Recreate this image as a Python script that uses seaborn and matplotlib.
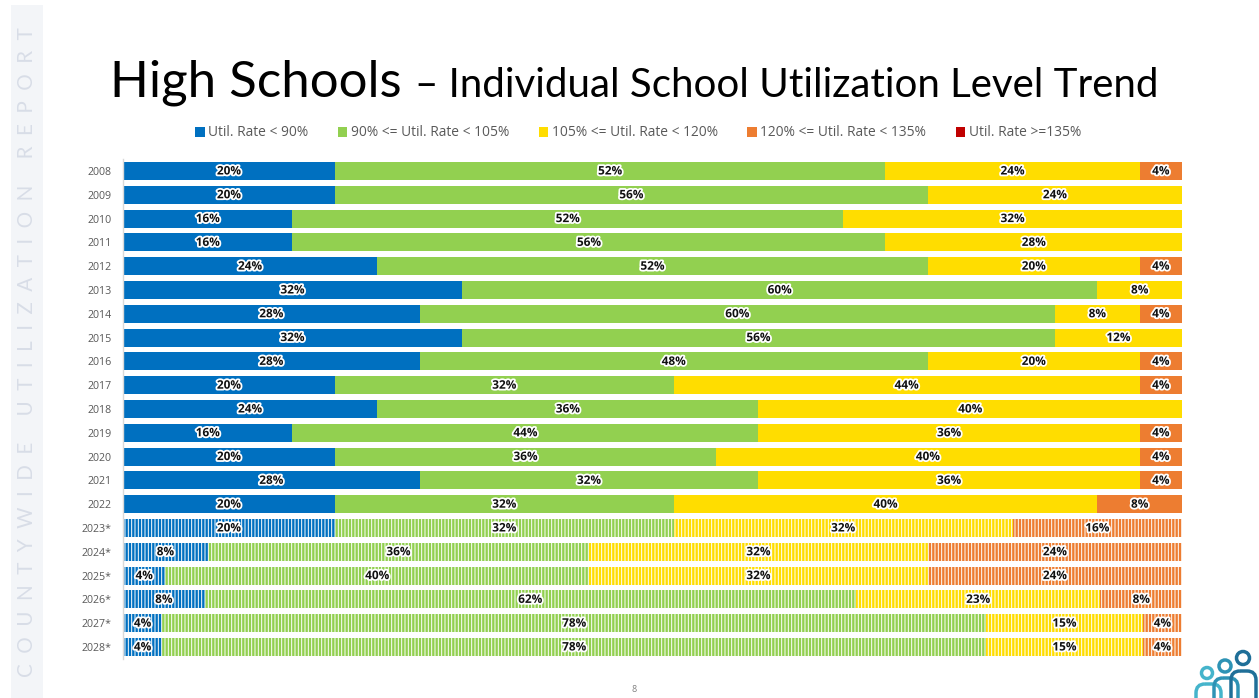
import seaborn as sns
import matplotlib.pyplot as plt
import matplotlib.patheffects as pe
from matplotlib.patches import Rectangle, Circle, FancyBboxPatch

years = ["2008", "2009", "2010", "2011", "2012", "2013", "2014", "2015", "2016", "2017", "2018",
         "2019", "2020", "2021", "2022", "2023*", "2024*", "2025*", "2026*", "2027*", "2028*"]

# shares per band, the projected years are not whole percents
under_90 = [20, 20, 16, 16, 24, 32, 28, 32, 28, 20, 24, 16, 20, 28, 20, 20, 8, 4, 7.7, 3.7, 3.7]
from_90 = [52, 56, 52, 56, 52, 60, 60, 56, 48, 32, 36, 44, 36, 32, 32, 32, 36, 40, 61.5, 77.8, 77.8]
from_105 = [24, 24, 32, 28, 20, 8, 8, 12, 20, 44, 40, 36, 40, 36, 40, 32, 32, 32, 23.1, 14.8, 14.8]
from_120 = [4, 0, 0, 0, 4, 0, 4, 0, 4, 4, 0, 4, 4, 4, 8, 16, 24, 24, 7.7, 3.7, 3.7]
over_135 = [0] * 21

bands = ["Util. Rate < 90%", "90% <= Util. Rate < 105%", "105% <= Util. Rate < 120%",
         "120% <= Util. Rate < 135%", "Util. Rate >=135%"]
colors = ["#0070C0", "#92D050", "#FFDD00", "#ED7D31", "#C00000"]

W, H = 1259, 698
sns.set_theme(style="white")
plt.rcParams["font.family"] = ["Open Sans", "DejaVu Sans"]
plt.rcParams["hatch.linewidth"] = 0.7

fig = plt.figure(figsize=(W / 100, H / 100), dpi=100)
ax = fig.add_axes([123 / W, 1 - 658.9 / H, 1059 / W, 499.8 / H])

hatches = [None if not y.endswith("*") else "|||||" for y in years]
lefts = [0] * len(years)
for band, color, values in zip(bands, colors, [under_90, from_90, from_105, from_120, over_135]):
    sns.barplot(x=values, y=years, left=lefts, color=color, saturation=1, orient="y", ax=ax,
                width=0.75, errorbar=None, edgecolor="#FFFFFF", linewidth=0, hatch=hatches)
    labels = [f"{v:.0f}%" if v > 0 else "" for v in values]
    ax.bar_label(ax.containers[-1], labels=labels, label_type="center", fontsize=8.5,
                 fontweight="bold", color="#111111",
                 path_effects=[pe.withStroke(linewidth=2.6, foreground="white")])
    lefts = [a + b for a, b in zip(lefts, values)]

ax.set_xlim(0, 100)
ax.set_xlabel("")
ax.set_ylabel("")
ax.xaxis.set_visible(False)
ax.tick_params(axis="y", length=0, pad=8, labelsize=7.7, labelcolor="#595959")
sns.despine(ax=ax, left=False, bottom=True)
ax.spines["left"].set_color("#D9D9D9")
ax.spines["left"].set_linewidth(1)

fig.legend(ax.containers, bands, loc="center", bbox_to_anchor=(638 / W, 1 - 133 / H), ncol=5,
           frameon=False, fontsize=9.9, labelcolor="#595959", handlelength=0.7, handleheight=0.7,
           handletextpad=0.25, columnspacing=2.15)

# slide decoration, in pixel coordinates
deco = fig.add_axes([0, 0, 1, 1], zorder=-1)
deco.set_xlim(0, W)
deco.set_ylim(H, 0)
deco.axis("off")
deco.add_patch(Rectangle((11, 5), 32, 693, color="#F3F5F8", lw=0))
side_text = "  ".join("COUNTYWIDE") + "     " + "  ".join("UTILIZATION") + "     " + "  ".join("REPORT")
deco.text(27, 352, side_text, rotation=90, ha="center", va="center", fontsize=14.85,
          color="#D8DDE7", family="Lato")
deco.text(110, 97, "High Schools", fontsize=36.7, color="black", family="Lato", va="baseline")
deco.text(415, 97, "– Individual School Utilization Level Trend", fontsize=29, color="black",
          family="Lato", va="baseline")
deco.text(634, 689, "8", fontsize=6.5, color="#7F7F7F", ha="center", va="center")

for (cx, cy, r), c in zip([(1207, 673, 5.5), (1225, 666, 6), (1243, 658, 6.5)],
                          ["#45B4CB", "#2E93B5", "#1F6F98"]):
    deco.add_patch(Circle((cx, cy), r, fill=False, edgecolor=c, lw=2.5))
for (x0, y0, w, h), c in zip([(1196, 684, 25, 30), (1214, 678, 24, 40), (1231, 671, 25, 45)],
                             ["#45B4CB", "#2E93B5", "#1F6F98"]):
    deco.add_patch(FancyBboxPatch((x0, y0), w, h, boxstyle="round,pad=0,rounding_size=9",
                                  fill=False, edgecolor=c, lw=2.5))

fig.savefig("out.png", dpi=100)
